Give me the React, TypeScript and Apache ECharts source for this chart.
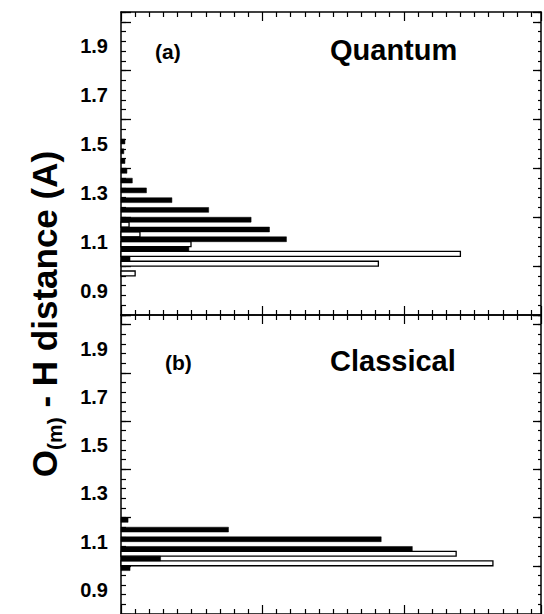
import React, { useEffect, useRef } from "react";
import * as echarts from "echarts";

// Histogram bins (O(m)-H distance, Å), bin width 0.04
const binCenters = [0.98, 1.02, 1.06, 1.1, 1.14, 1.18, 1.22, 1.26, 1.3, 1.34, 1.38, 1.42, 1.46, 1.5];
const quantumFilled = [0, 0.064, 0.48, 1.17, 1.05, 0.92, 0.62, 0.36, 0.18, 0.08, 0.042, 0.028, 0.02, 0.028];
const quantumOpen = [0.1, 1.82, 2.4, 0.495, 0.134, 0.057, 0, 0, 0, 0, 0, 0, 0, 0];
const classicalFilled = [0.064, 0.28, 2.06, 1.84, 0.76, 0.05, 0, 0, 0, 0, 0, 0, 0, 0];
const classicalOpen = [0, 2.63, 2.37, 0, 0, 0, 0, 0, 0, 0, 0, 0, 0, 0];
const yTickLabels = [0.9, 1.1, 1.3, 1.5, 1.7, 1.9];
const panelTags = ["(a)", "(b)"];
const panelTitles = ["Quantum", "Classical"];
const binWidth = 0.04;

const FONT = '"Liberation Sans", Arial, Helvetica, sans-serif';
const black = "#000";

export default function App() {
  const ref = useRef<HTMLDivElement>(null);
  useEffect(() => {
    if (!ref.current) return;
    const chart = echarts.init(ref.current, undefined, { renderer: "svg" });

    const grids = [
      { left: 121, top: 12, width: 420, height: 303 },
      { left: 121, top: 315, width: 420, height: 303 },
    ];
    const lineStyle = { color: black, width: 1.5 };

    const xAxes: any[] = [];
    const yAxes: any[] = [];
    grids.forEach((_, g) => {
      ["bottom", "top"].forEach((pos) => {
        xAxes.push({
          type: "value",
          gridIndex: g,
          position: pos,
          min: 0,
          max: 2.97,
          interval: 1,
          axisLine: { show: true, lineStyle },
          axisTick: { show: true, inside: true, length: 9, lineStyle: { color: black, width: 1.2 } },
          minorTick: { show: true, splitNumber: 10, length: 5, lineStyle: { color: black, width: 1.2 } },
          axisLabel: { show: false },
          splitLine: { show: false },
          minorSplitLine: { show: false },
        });
      });
      ["left", "right"].forEach((pos) => {
        yAxes.push({
          type: "value",
          gridIndex: g,
          position: pos,
          min: 0.8,
          max: 2.04,
          interval: 0.04,
          axisLine: { show: true, lineStyle },
          axisTick: { show: true, inside: true, length: pos === "left" ? 5 : 3, lineStyle: { color: black, width: 1.2 } },
          axisLabel:
            pos === "left"
              ? {
                  show: true,
                  customValues: yTickLabels,
                  formatter: (v: number) => v.toFixed(1),
                  color: black,
                  fontFamily: FONT,
                  fontWeight: "bold",
                  fontSize: 20,
                  margin: 13,
                }
              : { show: false },
          splitLine: { show: false },
        });
        yAxes.push({
          type: "value",
          gridIndex: g,
          position: pos,
          offset: 0,
          min: 0.8,
          max: 2.04,
          interval: 0.2,
          axisLine: { show: false },
          axisTick: { show: true, inside: true, length: pos === "left" ? 10 : 8, lineStyle: { color: black, width: 1.3 } },
          axisLabel: { show: false },
          splitLine: { show: false },
        });
      });
    });

    const makeRender = (upper: boolean) => (params: any, api: any) => {
      const c = api.value(0);
      const v = api.value(1);
      if (!v) return null;
      const yTop = upper ? c + binWidth / 2 : c;
      const yBot = upper ? c : c - binWidth / 2;
      const p0 = api.coord([0, yTop]);
      const p1 = api.coord([v, yBot]);
      return {
        type: "rect",
        shape: { x: p0[0], y: p0[1], width: p1[0] - p0[0], height: p1[1] - p0[1] },
        style: upper
          ? { fill: black, stroke: black, lineWidth: 0.5 }
          : { fill: "#fff", stroke: black, lineWidth: 1.3 },
      };
    };

    const panelData = [
      [quantumFilled, quantumOpen],
      [classicalFilled, classicalOpen],
    ];
    const series: any[] = [];
    panelData.forEach(([filled, open], g) => {
      [
        { vals: open, upper: false },
        { vals: filled, upper: true },
      ].forEach(({ vals, upper }) => {
        series.push({
          type: "custom",
          coordinateSystem: "cartesian2d",
          xAxisIndex: g * 2,
          yAxisIndex: g * 4,
          renderItem: makeRender(upper),
          encode: { x: 1, y: 0 },
          data: binCenters.map((c, i) => [c, vals[i]]),
        });
      });
    });

    const graphic: any[] = [];
    const tagPos = [
      { x: 155, y: 41 },
      { x: 165, y: 352 },
    ];
    const titlePos = [
      { x: 330, y: 35 },
      { x: 330, y: 346 },
    ];
    [0, 1].forEach((g) => {
      graphic.push({
        type: "text",
        x: tagPos[g].x,
        y: tagPos[g].y,
        style: { text: panelTags[g], font: `bold 21px ${FONT}`, fill: black },
      });
      graphic.push({
        type: "text",
        x: titlePos[g].x,
        y: titlePos[g].y,
        style: { text: panelTitles[g], font: `bold 29px ${FONT}`, fill: black },
      });
    });
    graphic.push({
      type: "text",
      x: 44,
      y: 314,
      rotation: Math.PI / 2,
      style: {
        text: "{o|O}{s|(m)}{o| - H distance (A)}",
        align: "center",
        verticalAlign: "middle",
        fill: black,
        rich: {
          o: { fontFamily: FONT, fontWeight: "bold", fontSize: 35, lineHeight: 42, verticalAlign: "middle", fill: black },
          s: { fontFamily: FONT, fontWeight: "bold", fontSize: 21, lineHeight: 42, verticalAlign: "bottom", padding: [14, 0, 0, 0], fill: black },
        },
      },
    });

    chart.setOption({
      animation: false,
      backgroundColor: "#fff",
      grid: grids,
      xAxis: xAxes,
      yAxis: yAxes,
      series,
      graphic,
    });
    return () => chart.dispose();
  }, []);

  return <div ref={ref} style={{ position: "absolute", left: 0, top: 0, width: 544, height: 614 }} />;
}
